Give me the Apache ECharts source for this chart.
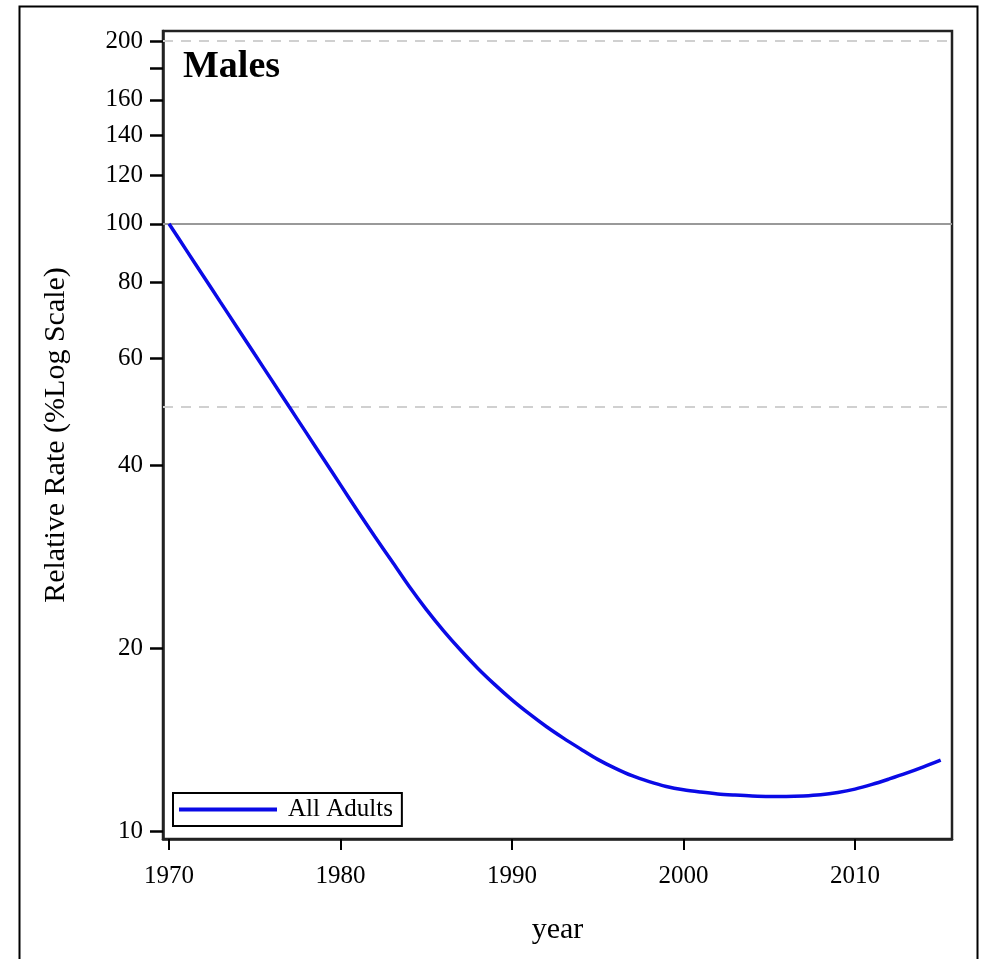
<!DOCTYPE html>
<html>
<head>
<meta charset="utf-8">
<script src="https://cdn.jsdelivr.net/npm/echarts@6/dist/echarts.min.js"></script>
<style>html,body{margin:0;padding:0;background:#fff;}#c{width:984px;height:959px;}</style>
</head>
<body>
<div id="c"></div>
<script>
const years = [1970,1971,1972,1973,1974,1975,1976,1977,1978,1979,1980,1981,1982,1983,1984,1985,1986,1987,1988,1989,1990,1991,1992,1993,1994,1995,1996,1997,1998,1999,2000,2001,2002,2003,2004,2005,2006,2007,2008,2009,2010,2011,2012,2013,2014,2015];
const allAdults = [100,90.57,82.04,74.30,67.30,60.95,55.21,50.00,45.29,41.02,37.15,33.65,30.55,27.80,25.29,23.17,21.38,19.86,18.54,17.42,16.44,15.60,14.86,14.22,13.65,13.12,12.69,12.33,12.06,11.84,11.69,11.59,11.51,11.46,11.42,11.40,11.40,11.42,11.47,11.57,11.72,11.93,12.18,12.45,12.75,13.08];
const yTicks = [10,20,40,60,80,100,120,140,160,180,200];
const yLabels = [10,20,40,60,80,100,120,140,160,200];
const xTicks = [1970,1980,1990,2000,2010];
const refDashed = [50,200];
const refSolid = [100];

const FONT = '"Liberation Serif", "DejaVu Serif", serif';
const chart = echarts.init(document.getElementById('c'));
chart.setOption({
  animation: false,
  backgroundColor: '#fff',
  graphic: [{
    type: 'rect', left: 17, top: 4, shape: {width: 958, height: 970},
    style: {fill: 'none', stroke: '#000', lineWidth: 2}, silent: true
  }],
  title: {
    text: 'Males', left: 178, top: 43,
    textStyle: {fontFamily: FONT, fontWeight: 'bold', fontSize: 38, color: '#000'}
  },
  legend: {
    left: 173, top: 793, orient: 'horizontal',
    borderColor: '#000', borderWidth: 2, padding: [4, 9, 4, 6],
    itemWidth: 98, itemHeight: 4,
    textStyle: {fontFamily: FONT, fontSize: 25, color: '#000', padding: [0, 0, 0, 6]},
    data: [{name: 'All Adults', icon: 'rect'}]
  },
  grid: {left: 163, right: 32, top: 31, bottom: 120, show: true, borderColor: '#222', borderWidth: 2.5, backgroundColor: '#fff'},
  xAxis: {
    type: 'value', min: 1969.65, max: 2015.66,
    name: 'year', nameLocation: 'middle', nameGap: 76,
    nameTextStyle: {fontFamily: FONT, fontSize: 30, color: '#000'},
    axisLine: {show: true, lineStyle: {color: '#222', width: 2.5}},
    axisTick: {show: true, length: 11, lineStyle: {color: '#000', width: 2}, customValues: xTicks},
    axisLabel: {customValues: xTicks, margin: 25, fontFamily: FONT, fontSize: 25, color: '#000',
      formatter: v => String(Math.round(v))},
    splitLine: {show: false}
  },
  yAxis: {
    type: 'log', logBase: 10, min: 9.7, max: 207.7,
    name: 'Relative Rate (%Log Scale)', nameLocation: 'middle', nameGap: 92, nameRotate: 90,
    nameTextStyle: {fontFamily: FONT, fontSize: 30, color: '#000'},
    axisLine: {show: true, lineStyle: {color: '#222', width: 2.5}},
    axisTick: {show: true, length: 13, lineStyle: {color: '#000', width: 2.5}, customValues: yTicks},
    axisLabel: {customValues: yLabels, margin: 20, fontFamily: FONT, fontSize: 25, color: '#000',
      formatter: v => String(Math.round(v))},
    minorTick: {show: false},
    splitLine: {show: false}
  },
  series: [{
    name: 'All Adults', type: 'line',
    data: years.map((y, i) => [y, allAdults[i]]),
    showSymbol: false, symbol: 'none', smooth: 0.3,
    lineStyle: {color: '#0a0ae6', width: 3.5},
    itemStyle: {color: '#0a0ae6'},
    z: 5,
    markLine: {
      silent: true, symbol: 'none', label: {show: false},
      data: [
        ...refDashed.map(v => ({yAxis: v, lineStyle: {type: [10, 8], color: '#d0d0d0', width: 2}})),
        ...refSolid.map(v => ({yAxis: v, lineStyle: {type: 'solid', color: '#999', width: 2}}))
      ]
    }
  }]
});
</script>
</body>
</html>
